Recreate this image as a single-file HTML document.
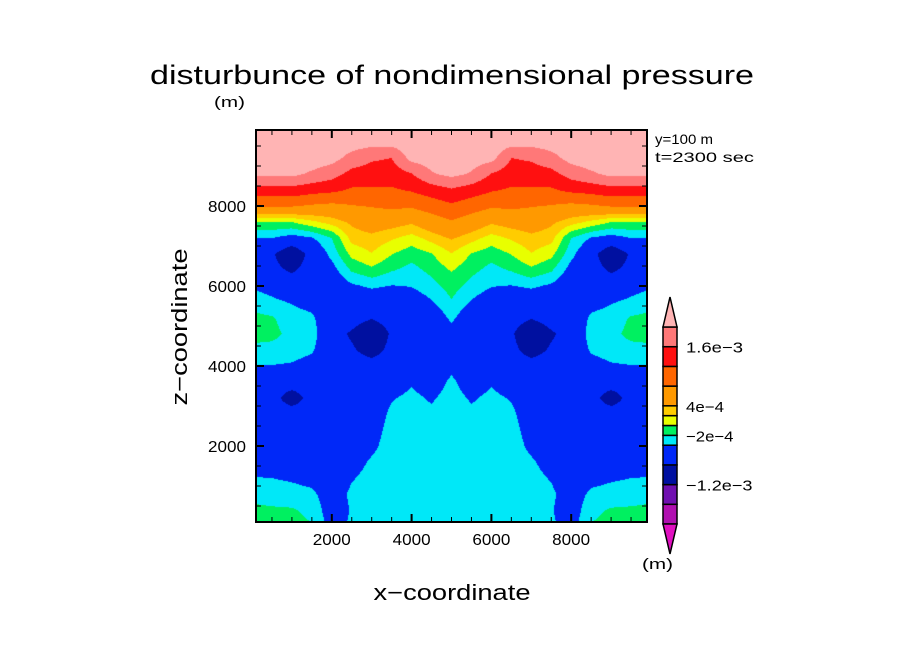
<!DOCTYPE html>
<html><head><meta charset="utf-8">
<style>
html,body{margin:0;padding:0;background:#fff;}
#wrap{position:relative;width:904px;height:654px;overflow:hidden;}
#field{position:absolute;left:256px;top:130px;}
svg{position:absolute;left:0;top:0;}
text{font-family:"Liberation Sans","DejaVu Sans",sans-serif;fill:#000;}
</style></head>
<body>
<div id="wrap">
<canvas id="field" width="391" height="392"></canvas>
<svg id="svg" width="904" height="654">
  <text x="452" y="84" font-size="27" text-anchor="middle" textLength="604" lengthAdjust="spacingAndGlyphs">disturbunce of nondimensional pressure</text>
  <text x="214" y="107" font-size="15" textLength="31" lengthAdjust="spacingAndGlyphs">(m)</text>
  <text x="655" y="144" font-size="14" textLength="58" lengthAdjust="spacingAndGlyphs">y=100 m</text>
  <text x="655" y="162" font-size="14" textLength="99" lengthAdjust="spacingAndGlyphs">t=2300 sec</text>
  <text x="452" y="600" font-size="22" text-anchor="middle" textLength="157" lengthAdjust="spacingAndGlyphs">x−coordinate</text>
  <text x="0" y="0" font-size="22" text-anchor="middle" textLength="157" lengthAdjust="spacingAndGlyphs" transform="translate(187,327) rotate(-90)">z−coordinate</text>
  <text x="642" y="569" font-size="15" textLength="31" lengthAdjust="spacingAndGlyphs">(m)</text>
  <g id="ticks"></g>
  <g id="cbar"></g>
  <rect x="256" y="130" width="391" height="392" fill="none" stroke="#000" stroke-width="2"/>
</svg>
</div>
<script>
// ---- data ----
const xHalf = [0,500,1000,1500,2000,2500,3000,3500,4000,4500,5000];
const zRows = [10000,9600,9200,8800,8400,8000,7600,7200,6800,6400,6000,5600,5200,4800,4400,4000,3600,3200,2800,2400,2000,1600,1200,800,400,0];
// field values (units of 1e-4), rows top->bottom, left half (mirrored about x=5000)
const fieldRows = [
[24,24,24,24,24,23.5,23.5,23.5,24,24,24],
[23.5,23.5,23.5,23.5,23,22,21.5,21.6,22.5,23,23.5],
[22.5,22.5,22.5,22.5,21.5,18.6,16.6,16,21.4,22,22.5],
[21,21,21,19.3,17.6,14.7,14,13.8,15.8,19.6,21.1],
[14.5,14.5,14.5,13.5,12.9,11.5,11.6,11.5,12.4,14,15.5],
[8.3,8.3,8.3,7.5,7,7.8,8.2,8.7,8.5,9.8,11.3],
[0,0,0,1.5,2.9,4.5,5.6,5.2,4.4,6.1,7.6],
[-4,-4,-5,-4.2,-2,2.8,3.4,2.3,1.2,2.8,4.3],
[-6,-7.5,-11,-6.5,-3.3,0.6,1.9,0.1,-1.2,-0.1,1.9],
[-6,-7,-8.5,-6.5,-5,-1.7,-0.5,-1.8,-2.7,-1.4,0.2],
[-4.3,-5,-6,-6,-6,-4.4,-3.6,-4.1,-3.9,-2.8,-1.1],
[-2.6,-3.5,-4.2,-5,-6.5,-6,-6,-6,-5.5,-4.2,-2.2],
[-1.5,-1.8,-3,-3.5,-6.5,-6.5,-7.8,-6.5,-6.3,-6,-3.5],
[-1.3,-1.5,-2.5,-3,-6.5,-8.5,-11,-7.5,-6.5,-6.5,-5],
[-2.5,-2.6,-3,-3.7,-6.3,-7.5,-9.5,-7,-6.5,-6.5,-5.5],
[-4.1,-4.1,-4.3,-5,-6,-6.5,-6.5,-6.5,-6,-6.3,-4.6],
[-6,-6,-6,-6,-6,-6,-6,-5.5,-4.3,-5.5,-3.5],
[-6,-6.5,-10,-6.5,-6,-6,-5.8,-4.2,-3.4,-4.3,-3],
[-6,-6.5,-6,-6.3,-6,-6,-5.5,-3.5,-3,-3.5,-2.8],
[-6,-6,-6,-6,-6,-6,-5,-3.2,-3,-3.1,-2.7],
[-6,-6,-6,-6,-6,-5.8,-4.5,-3,-3,-3,-2.7],
[-5.5,-5.3,-5.5,-5.7,-6,-5,-3.7,-3,-2.8,-2.8,-2.6],
[-3.9,-4,-4.3,-4.8,-6,-4.2,-3.2,-3,-2.8,-2.7,-2.6],
[-2.7,-3,-3.2,-3.5,-5.5,-3.5,-3,-3,-2.8,-2.7,-2.6],
[-1.5,-1.7,-1.8,-2.5,-5.5,-3.8,-3,-3,-2.8,-2.7,-2.6],
[-1,-1.2,-1.3,-1.9,-5,-3.6,-3,-3,-2.8,-2.7,-2.6]
];
const contourLevels = [-20,-16,-12,-8,-4,-2,0,2,4,8,12,16,20];
const bandColors = ["#e010c0","#b010b0","#7010b0","#0010a0","#0028f8","#00e8f8","#00f060","#e8ff00","#ffcc00","#ff9900","#ff6600","#ff1010","#ff7878","#ffb4b4"];
const cbarLabels = ["1.6e-3","4e-4","-2e-4","-1.2e-3"];
const cbarLabelLevels = [16,4,-2,-12];
const xTickLabels = ["2000","4000","6000","8000"];
const xTickValues = [2000,4000,6000,8000];
const yTickLabels = ["2000","4000","6000","8000"];
const yTickValues = [2000,4000,6000,8000];

// ---- axes ----
const X0=256,X1=647,Y0=130,Y1=522,DMIN=100,DMAX=9900;
const sx = v => X0 + (v-DMIN)/(DMAX-DMIN)*(X1-X0);
const sy = v => Y1 - (v-DMIN)/(DMAX-DMIN)*(Y1-Y0);
const ix = px => DMIN + (px-X0)/(X1-X0)*(DMAX-DMIN);
const iz = py => DMIN + (Y1-py)/(Y1-Y0)*(DMAX-DMIN);

function fieldAt(x,z){
  let xm = x>5000 ? 10000-x : x;
  let dx = xHalf[1]-xHalf[0];
  let ci = Math.min(xHalf.length-2, Math.max(0, Math.floor((xm-xHalf[0])/dx)));
  let fx = (xm-xHalf[ci])/dx;
  let dz = zRows[0]-zRows[1];
  let ri = Math.min(zRows.length-2, Math.max(0, Math.floor((zRows[0]-z)/dz)));
  let fz = (zRows[ri]-z)/dz;
  const a=fieldRows[ri][ci], b=fieldRows[ri][ci+1], c=fieldRows[ri+1][ci], d=fieldRows[ri+1][ci+1];
  return (a*(1-fx)+b*fx)*(1-fz)+(c*(1-fx)+d*fx)*fz;
}
function band(v){let k=0;for(const l of contourLevels){if(v>l)k++;}return k;}
function hex(c){return [parseInt(c.slice(1,3),16),parseInt(c.slice(3,5),16),parseInt(c.slice(5,7),16)];}
const rgb = bandColors.map(hex);

const cv=document.getElementById('field');
const ctx=cv.getContext('2d');
const img=ctx.createImageData(cv.width,cv.height);
for(let py=0;py<cv.height;py++){
  for(let px=0;px<cv.width;px++){
    const v=fieldAt(ix(X0+px+0.5), iz(Y0+py+0.5));
    const c=rgb[band(v)];
    const o=(py*cv.width+px)*4;
    img.data[o]=c[0];img.data[o+1]=c[1];img.data[o+2]=c[2];img.data[o+3]=255;
  }
}
ctx.putImageData(img,0,0);

const NS="http://www.w3.org/2000/svg";
const ticks=document.getElementById('ticks');
function line(g,x1,y1,x2,y2,w,name){
  const l=document.createElementNS(NS,'line');
  l.setAttribute('x1',x1);l.setAttribute('y1',y1);l.setAttribute('x2',x2);l.setAttribute('y2',y2);
  l.setAttribute('stroke','#000');l.setAttribute('stroke-width',w);
  
  
  g.appendChild(l);
}
for(let v=500; v<10000; v+=500){
  const major = v%2000===0;
  const len = major?8:5, w = major?2:1;
  const x=sx(v), y=sy(v);
  line(ticks,x,Y1,x,Y1-len,w,'x-tick');
  line(ticks,x,Y0,x,Y0+len,w,'x-tick-top');
  line(ticks,X0,y,X0+len,y,w,'y-tick');
  line(ticks,X1,y,X1-len,y,w,'y-tick-right');
}
function txt(g,x,y,s,size,anchor,name,len){
  const t=document.createElementNS(NS,'text');
  t.setAttribute('x',x);t.setAttribute('y',y);t.setAttribute('font-size',size);
  t.setAttribute('text-anchor',anchor);
  if(len){t.setAttribute('textLength',len);t.setAttribute('lengthAdjust','spacingAndGlyphs');}
  t.textContent=s;
  
  
  g.appendChild(t);
}
xTickLabels.forEach((s,i)=>txt(ticks,sx(xTickValues[i]),545,s,16,'middle','x-tick-label',38));
yTickLabels.forEach((s,i)=>txt(ticks,246,sy(yTickValues[i])+6,s,16,'end','y-tick-label',38));

// colorbar (box heights proportional to level spacing)
const cb=document.getElementById('cbar');
const cbX=663,cbW=14,cbTop=327,cbBot=524;
const lvMin=contourLevels[0], lvMax=contourLevels[contourLevels.length-1];
const cbY = lv => cbBot - (lv-lvMin)/(lvMax-lvMin)*(cbBot-cbTop);
for(let i=0;i<contourLevels.length-1;i++){
  const yTop=cbY(contourLevels[i+1]), yB=cbY(contourLevels[i]);
  const r=document.createElementNS(NS,'rect');
  r.setAttribute('x',cbX);r.setAttribute('y',yTop);r.setAttribute('width',cbW);r.setAttribute('height',yB-yTop);
  r.setAttribute('fill',bandColors[i+1]);r.setAttribute('stroke','#000');r.setAttribute('stroke-width','1.5');
  
  
  cb.appendChild(r);
}
const tt=document.createElementNS(NS,'polygon');
tt.setAttribute('points',`${cbX},${cbTop} ${cbX+cbW},${cbTop} ${cbX+cbW/2},${cbTop-30}`);
tt.setAttribute('fill',bandColors[13]);tt.setAttribute('stroke','#000');tt.setAttribute('stroke-width','1.5');


cb.appendChild(tt);
const tb=document.createElementNS(NS,'polygon');
tb.setAttribute('points',`${cbX},${cbBot} ${cbX+cbW},${cbBot} ${cbX+cbW/2},${cbBot+30}`);
tb.setAttribute('fill',bandColors[0]);tb.setAttribute('stroke','#000');tb.setAttribute('stroke-width','1.5');


cb.appendChild(tb);
cbarLabels.forEach((s,i)=>txt(cb,686,cbY(cbarLabelLevels[i])+6,s.replace(/-/g,'−'),15,'start','colorbar-label',s.length*9.5));
</script>
</body></html>
